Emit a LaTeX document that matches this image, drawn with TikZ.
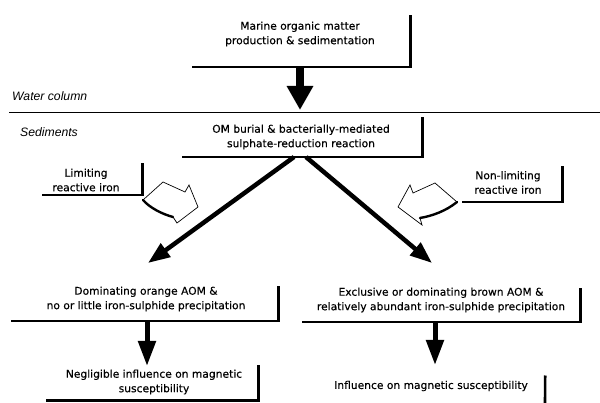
\documentclass[tikz,border=0pt]{standalone}
\usepackage{fontspec}
\setmainfont{DejaVu Sans}
\newfontfamily\cfont[FakeBold=0.35]{DejaVu Sans}
\newfontfamily\labfont{Liberation Sans}
\usetikzlibrary{arrows.meta}
\begin{document}
\begin{tikzpicture}[x=1pt,y=-1pt,
  txt/.style={font=\cfont\fontsize{10.7}{14.5}\selectfont, align=center, inner sep=0pt},
  lab/.style={font=\labfont\itshape\fontsize{12.2}{13}\selectfont, anchor=west, inner sep=0pt},
  box/.style={draw=none, inner sep=0pt, rectangle},
  shadow/.style={line width=2.6pt, line cap=rect},
  bigarrow/.style={line width=8pt, -{Triangle[width=25pt,length=24pt]}},
  diagarrow/.style={line width=4.5pt, -{Triangle[width=16pt,length=22pt]}},
  downarrow/.style={line width=5pt, -{Triangle[width=17pt,length=25pt]}},
  hollow/.style={line width=0.7pt, line join=miter},
  curveedge/.style={line width=2.4pt, line cap=round}]
\useasboundingbox (0,0) rectangle (600,403);

% boxes (only right and bottom edges are drawn)
\node[box, minimum width=217pt, minimum height=50pt] (mom) at (301.5,42) {};
\node[box, minimum width=239pt, minimum height=38pt] (mid) at (302.5,138) {};
\node[box, minimum width=99pt, minimum height=30pt] (lim) at (92.5,180) {};
\node[box, minimum width=99pt, minimum height=34pt] (nlim) at (512.5,185) {};
\node[box, minimum width=266pt, minimum height=33pt] (bl) at (145,304.5) {};
\node[box, minimum width=277pt, minimum height=32pt] (br) at (441.5,306) {};
\node[box, minimum width=211pt, minimum height=33pt] (fl) at (152.5,383.5) {};
\node[box, minimum width=225pt, minimum height=32pt] (fr) at (432.5,393) {};

\foreach \b in {mom,mid,lim,nlim,bl,br,fl}
  \draw[shadow] (\b.south west) -- (\b.south east) -- (\b.north east);
\draw[shadow] (fr.north east) -- (545,403);

% texts
\node[txt] (tmom) at (300,34) {Marine organic matter\\production \& sedimentation};
\node[txt] (tmid) at (301,137) {OM burial \& bacterially-mediated\\sulphate-reduction reaction};
\node[txt] (tlim) at (86,180) {Limiting\\reactive iron};
\node[txt] (tnlim) at (508,182.5) {Non-limiting\\reactive iron};
\node[txt] (tbl) at (146,299) {Dominating orange AOM \&\\no or little iron-sulphide precipitation};
\node[txt] (tbr) at (441,300) {Exclusive or dominating brown AOM \&\\relatively abundant iron-sulphide precipitation};
\node[txt] (tfl) at (154,382) {Negligible influence on magnetic\\susceptibility};
\node[txt] (tfr) at (431,386) {Influence on magnetic susceptibility};

% water / sediment boundary
\coordinate (wl) at (9,112.5);
\coordinate (wr) at (600,112.5);
\draw[line width=1.3pt] (wl) -- (wr);
\node[lab] (water) at (12,96) {Water column};
\node[lab] (sed) at (20,132) {Sediments};

% arrows
\coordinate (tipTop) at (300,110);
\draw[bigarrow] (mom.south -| tipTop) -- (tipTop);

\coordinate (startL) at (294,157);
\coordinate (startR) at (306,157);
\coordinate (tipL) at (148,263);
\coordinate (tipR) at (432,263);
\draw[diagarrow] (startL) -- (tipL);
\draw[diagarrow] (startR) -- (tipR);

\coordinate (tipBL) at (147,366);
\coordinate (tipBR) at (435,365);
\draw[downarrow] (bl.south -| tipBL) -- (tipBL);
\draw[downarrow] (br.south -| tipBR) -- (tipBR);

% hollow curved arrows (reactive iron input)
\draw[hollow] (143,200) -- (163,182) -- (185,192) -- (189,185) -- (198,207) -- (177,223) -- (173,217);
\draw[curveedge] (173,217) .. controls (162,214) and (150,208) .. (143,200);
\draw[hollow] (457,202) -- (435,183) -- (413,193) -- (410,185) -- (398,207) -- (422,225) -- (420,218);
\draw[curveedge] (420,218) .. controls (432,216) and (446,211) .. (457,202);
\end{tikzpicture}
\end{document}
